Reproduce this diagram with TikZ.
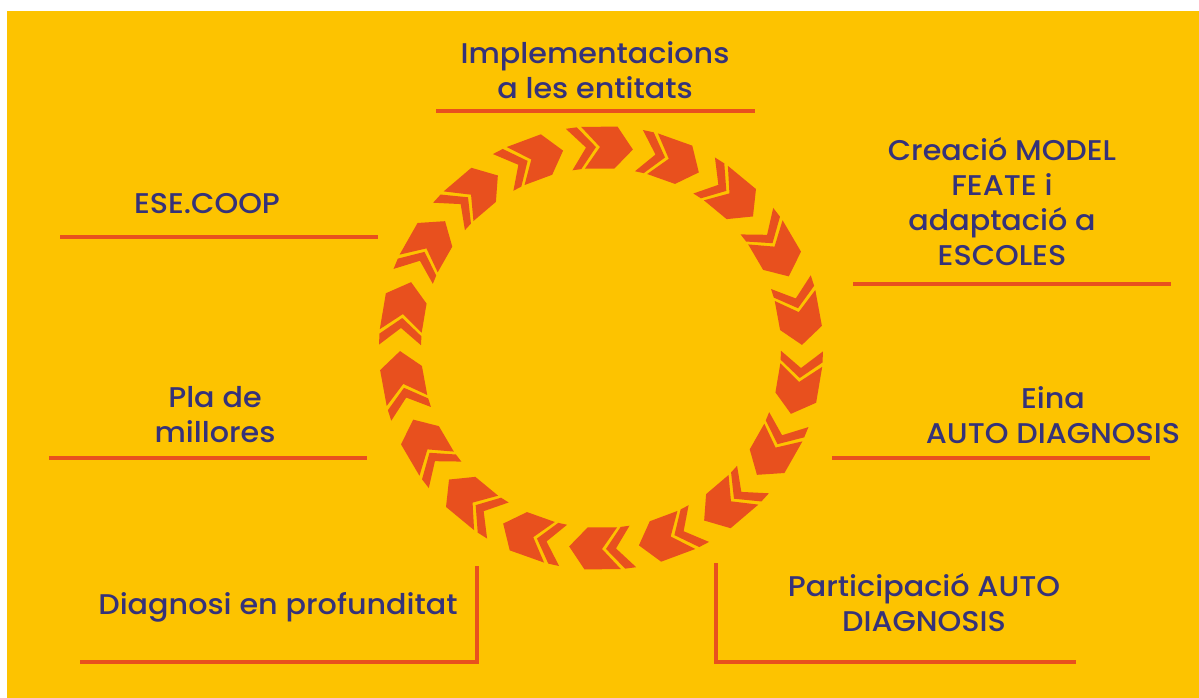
\documentclass[tikz,border=0pt]{standalone}
\usepackage{fontspec}
\setmainfont{Poppins}[UprightFont={* Medium}, FakeStretch=1.06]
\definecolor{bgy}{HTML}{FDC300}
\definecolor{org}{HTML}{E8501E}
\definecolor{ink}{HTML}{35327A}
\begin{document}
\begin{tikzpicture}[x=1pt,y=-1pt,
  lbl/.style={text=ink, font=\fontsize{28.5}{35}\selectfont, align=center, inner sep=0pt},
  rule/.style={draw=org, line width=4pt, line join=miter},
  chev/.style={fill=org}]
\useasboundingbox (0,0) rectangle (1199,698);
\fill[white] (0,0) rectangle (1199,698);
\fill[bgy] (7,11) rectangle (1199,698);
% ring of chevrons
\begin{scope}[shift={(601,348)}]
\def\s{0.28505}
\foreach \k in {0,...,17}{
  \pgfmathsetmacro\t{-90+20*\k}
  \fill[chev] ({\t+(0-32)*\s}:222) -- ({\t+(10-32)*\s}:222) -- ({\t+(27-32)*\s}:201)
     -- ({\t+(10-32)*\s}:180) -- ({\t+(0-32)*\s}:180) -- ({\t+(17-32)*\s}:201) -- cycle;
  \fill[chev] ({\t+(14-32)*\s}:222) -- ({\t+(47-32)*\s}:222) -- ({\t+(64-32)*\s}:201)
     -- ({\t+(47-32)*\s}:180) -- ({\t+(14-32)*\s}:180) -- ({\t+(31-32)*\s}:201) -- cycle;
}
\end{scope}
% labels
\node[lbl] (impl) at (595,70) {Implementacions\\a les entitats};
\node[lbl] (creacio) at (1002,202) {Creació MODEL\\FEATE i\\adaptació a\\ESCOLES};
\node[lbl] (ese) at (207,204) {ESE.COOP};
\node[lbl] (pla) at (215,415) {Pla de\\millores};
\node[lbl] (eina) at (1053,415) {Eina\\AUTO DIAGNOSIS};
\node[lbl] (diag) at (278,607) {Diagnosi en profunditat};
\node[lbl] (part) at (924,603) {Participació AUTO\\DIAGNOSIS};
% rules
\draw[rule] (436,111) -- (755,111);
\draw[rule] (853,284) -- (1171,284);
\draw[rule] (60,237) -- (378,237);
\draw[rule] (49,458) -- (367,458);
\draw[rule] (832,458) -- (1150,458);
\draw[rule] (80,662) -- (477,662) -- (477,566);
\draw[rule] (716,563) -- (716,662) -- (1076,662);
\end{tikzpicture}
\end{document}
